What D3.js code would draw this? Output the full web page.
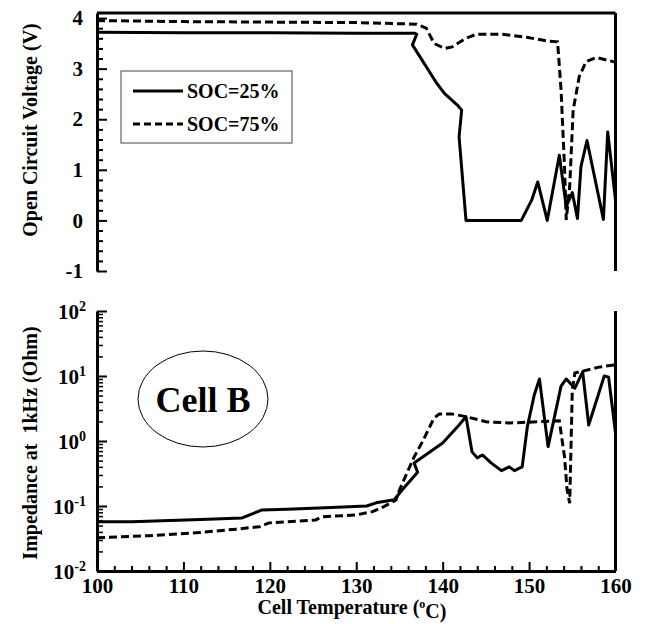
<!DOCTYPE html>
<html>
<head>
<meta charset="utf-8">
<script src="https://cdn.jsdelivr.net/npm/d3@7"></script>
<style>
  body { margin: 0; background: #fff; }
  svg text { font-family: "Liberation Serif", "Times New Roman", serif; font-weight: bold; fill: #000; }
</style>
</head>
<body>
<div id="chart"></div>
<script>
// top panel: open circuit voltage (V)
const ocv25T = [100, 110, 120, 130, 136.8, 137.0, 136.5, 139.2, 140.2, 141.7, 142.2, 141.9, 142.7, 149.1, 150.3, 151.0, 152.1, 153.5, 154.3, 155.0, 155.6, 156.0, 156.7, 158.6, 159.1, 160];
const ocv25V = [3.72, 3.71, 3.71, 3.70, 3.70, 3.68, 3.47, 2.74, 2.51, 2.28, 2.18, 1.65, 0.0, 0.0, 0.40, 0.76, 0.0, 1.29, 0.27, 0.55, 0.04, 1.06, 1.58, 0.02, 1.75, 0.40];
const ocv75T = [100, 110, 120, 130, 137, 138.1, 139, 140.2, 141.1, 142.7, 143.9, 146.9, 149.7, 152, 153.3, 153.7, 154.1, 154.3, 154.7, 155.1, 155.8, 156.6, 157.8, 159.7, 160];
const ocv75V = [3.95, 3.93, 3.92, 3.91, 3.88, 3.80, 3.50, 3.40, 3.43, 3.60, 3.68, 3.68, 3.62, 3.55, 3.53, 2.58, 1.06, 0.01, 0.67, 2.18, 2.84, 3.14, 3.22, 3.14, 3.13];

// bottom panel: impedance at 1kHz (Ohm)
const z25T = [100, 104, 112, 116.8, 119.1, 122, 125.7, 131.2, 132.3, 134.4, 135.3, 137.1, 136.7, 140, 141.9, 142.7, 143.4, 144, 144.6, 145.6, 146.8, 147.7, 148.3, 149.2, 149.8, 150.6, 151.2, 152.2, 153.7, 154.3, 155.3, 156.2, 156.9, 158.7, 159.2, 160];
const z25V = [0.057, 0.057, 0.062, 0.0655, 0.087, 0.089, 0.093, 0.1, 0.112, 0.125, 0.176, 0.33, 0.46, 0.93, 1.76, 2.37, 0.68, 0.55, 0.61, 0.46, 0.35, 0.40, 0.35, 0.40, 1.66, 5.1, 9.0, 0.82, 7.0, 9.0, 6.5, 11.6, 1.76, 10, 9.6, 1.33];
const z75T = [100, 106, 111.8, 116.1, 118.8, 119.9, 125.3, 126, 130, 131.9, 133.2, 134.6, 135, 136.7, 137.7, 139, 139.6, 141.1, 142.7, 145, 147.7, 150.4, 153.5, 154.1, 154.4, 154.7, 155, 155.3, 156.2, 158.1, 160];
const z75V = [0.0325, 0.035, 0.039, 0.044, 0.048, 0.055, 0.061, 0.068, 0.073, 0.082, 0.098, 0.124, 0.176, 0.57, 1.0, 2.26, 2.6, 2.6, 2.37, 1.98, 1.89, 1.96, 2.05, 0.57, 0.176, 0.11, 6.1, 11.1, 11.9, 13.7, 14.9];

const xTicks = [100, 110, 120, 130, 140, 150, 160];
const voltTicks = [-1, 0, 1, 2, 3, 4];
const logTicks = [-2, -1, 0, 1, 2];
const seriesNames = ["SOC=25%", "SOC=75%"];

const width = 645, height = 624;
const left = 97, right = 615.5;

const svg = d3.select("#chart").append("svg")
  .attr("width", width)
  .attr("height", height);

const x = d3.scaleLinear().domain([100, 160]).range([left, right]);
const yV = d3.scaleLinear().domain([-1, 4.1]).range([271, 13]);
const yZ = d3.scaleLog().domain([0.01, 100]).range([571, 311]);

const dashed = "8,4";

// ---- top panel axes
const gTop = svg.append("g");
const leftV = gTop.append("g")
  .attr("transform", `translate(${left},0)`)
  .call(d3.axisLeft(yV).tickValues(voltTicks).tickSize(-10).tickSizeOuter(0).tickPadding(14).tickFormat(d => String(d)));
leftV.select(".domain").attr("stroke-width", 3);
leftV.selectAll(".tick line").attr("stroke-width", 2);
leftV.selectAll("text").style("font-size", "21px").attr("font-family", null);

const minorV = d3.range(-1, 4.01, 0.2).filter(d => Math.abs(d - Math.round(d)) > 0.01);
gTop.append("g")
  .attr("transform", `translate(${left},0)`)
  .call(d3.axisLeft(yV).tickValues(minorV).tickSize(-6).tickFormat(""))
  .call(g => g.select(".domain").remove())
  .selectAll(".tick line").attr("stroke-width", 2);

// top and right frame
gTop.append("line").attr("x1", left).attr("x2", right).attr("y1", yV(4.1)).attr("y2", yV(4.1))
  .attr("stroke", "#000").attr("stroke-width", 3);
gTop.append("line").attr("x1", right).attr("x2", right).attr("y1", yV(4.1)).attr("y2", yV(-1))
  .attr("stroke", "#000").attr("stroke-width", 3);

// ---- bottom panel axes
const gBot = svg.append("g");
const leftZ = gBot.append("g")
  .attr("transform", `translate(${left},0)`)
  .call(d3.axisLeft(yZ).tickValues(logTicks.map(e => Math.pow(10, e))).tickSize(-10).tickSizeOuter(0).tickFormat(""));
leftZ.select(".domain").attr("stroke-width", 3);
leftZ.selectAll(".tick line").attr("stroke-width", 2);

const minorZ = [];
logTicks.slice(0, -1).forEach(e => { for (let k = 2; k <= 9; k++) minorZ.push(k * Math.pow(10, e)); });
gBot.append("g")
  .attr("transform", `translate(${left},0)`)
  .call(d3.axisLeft(yZ).tickValues(minorZ).tickSize(-6).tickFormat(""))
  .call(g => g.select(".domain").remove())
  .selectAll(".tick line").attr("stroke-width", 1.5);

const logLabels = gBot.selectAll("text.loglab")
  .data(logTicks)
  .join("text")
  .attr("class", "loglab")
  .attr("x", left - 11)
  .attr("y", d => yZ(Math.pow(10, d)) + 8)
  .attr("text-anchor", "end")
  .style("font-size", "21px");
logLabels.append("tspan").text("10");
logLabels.append("tspan").attr("dy", "-0.55em").style("font-size", "14px").text(d => d < 0 ? "-" + Math.abs(d) : d);

const bottomX = gBot.append("g")
  .attr("transform", `translate(0,${yZ(0.01)})`)
  .call(d3.axisBottom(x).tickValues(xTicks).tickSize(-9).tickSizeOuter(0).tickPadding(7).tickFormat(d => String(d)));
bottomX.select(".domain").attr("stroke-width", 3);
bottomX.selectAll(".tick line").attr("stroke-width", 2);
bottomX.selectAll("text").style("font-size", "21px").attr("font-family", null);

const minorX = d3.range(100, 160, 2).filter(d => d % 10 !== 0);
gBot.append("g")
  .attr("transform", `translate(0,${yZ(0.01)})`)
  .call(d3.axisBottom(x).tickValues(minorX).tickSize(-5).tickFormat(""))
  .call(g => g.select(".domain").remove())
  .selectAll(".tick line").attr("stroke-width", 2);

gBot.append("line").attr("x1", right).attr("x2", right).attr("y1", yZ(100)).attr("y2", yZ(0.01))
  .attr("stroke", "#000").attr("stroke-width", 3);

// ---- lines
const lineV = d3.line().x(d => x(d[0])).y(d => yV(d[1]));
const lineZ = d3.line().x(d => x(d[0])).y(d => yZ(d[1]));

svg.append("path").datum(d3.zip(ocv25T, ocv25V)).attr("d", lineV)
  .attr("fill", "none").attr("stroke", "#000").attr("stroke-width", 3).attr("stroke-linejoin", "round");
svg.append("path").datum(d3.zip(ocv75T, ocv75V)).attr("d", lineV)
  .attr("fill", "none").attr("stroke", "#000").attr("stroke-width", 3).attr("stroke-dasharray", dashed);
svg.append("path").datum(d3.zip(z25T, z25V)).attr("d", lineZ)
  .attr("fill", "none").attr("stroke", "#000").attr("stroke-width", 3).attr("stroke-linejoin", "round");
svg.append("path").datum(d3.zip(z75T, z75V)).attr("d", lineZ)
  .attr("fill", "none").attr("stroke", "#000").attr("stroke-width", 3).attr("stroke-dasharray", dashed);

// ---- legend
const legend = svg.append("g").attr("transform", "translate(121,71)");
legend.append("rect").attr("width", 171).attr("height", 72)
  .attr("fill", "#fff").attr("stroke", "#444").attr("stroke-width", 1);
seriesNames.forEach((name, i) => {
  const yy = 20 + i * 33;
  legend.append("line").attr("x1", 12).attr("x2", 62).attr("y1", yy).attr("y2", yy)
    .attr("stroke", "#000").attr("stroke-width", 3)
    .attr("stroke-dasharray", i === 1 ? "7,4" : null);
  legend.append("text").attr("x", 66).attr("y", yy + 7).style("font-size", "20px").text(name);
});

// ---- Cell B label
svg.append("ellipse").attr("cx", 203).attr("cy", 399).attr("rx", 65).attr("ry", 48)
  .attr("fill", "none").attr("stroke", "#000").attr("stroke-width", 1);
svg.append("text").attr("x", 203).attr("y", 412).attr("text-anchor", "middle")
  .style("font-size", "36px").text("Cell B");

// ---- axis titles
svg.append("text")
  .attr("transform", "translate(37,130) rotate(-90)")
  .attr("text-anchor", "middle")
  .style("font-size", "20px")
  .text("Open Circuit Voltage (V)");
svg.append("text")
  .attr("transform", "translate(37,443) rotate(-90)")
  .attr("text-anchor", "middle")
  .style("font-size", "20px")
  .attr("xml:space", "preserve")
  .style("white-space", "pre")
  .text("Impedance at  1kHz (Ohm)");
const xt = svg.append("text")
  .attr("x", 352).attr("y", 614)
  .attr("text-anchor", "middle")
  .style("font-size", "20px");
xt.append("tspan").text("Cell Temperature (");
xt.append("tspan").attr("dy", "-0.5em").style("font-size", "12px").text("o");
xt.append("tspan").attr("dy", "0.5em").text("C)");
</script>
</body>
</html>
